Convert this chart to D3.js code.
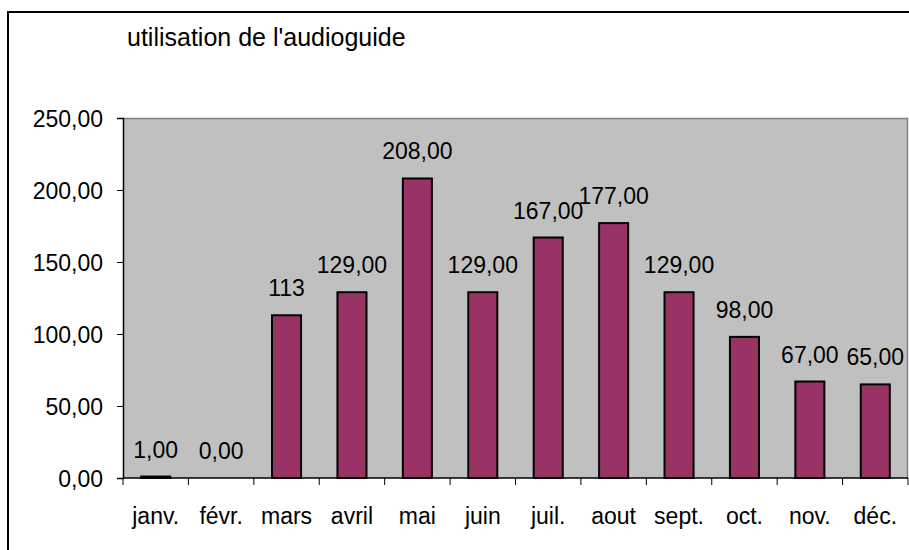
<!DOCTYPE html>
<html>
<head>
<meta charset="utf-8">
<script src="https://cdn.jsdelivr.net/npm/d3@7"></script>
<style>
  html, body { margin: 0; padding: 0; background: #fff; }
  svg { display: block; }
  text { font-family: "Liberation Sans", Arial, sans-serif; fill: #000; }
</style>
</head>
<body>
<div id="chart"></div>
<script>
'use strict'

// data
const months = ['janv.', 'févr.', 'mars', 'avril', 'mai', 'juin', 'juil.', 'aout', 'sept.', 'oct.', 'nov.', 'déc.']
const visits = [1, 0, 113, 129, 208, 129, 167, 177, 129, 98, 67, 65]
const valueLabels = ['1,00', '0,00', '113', '129,00', '208,00', '129,00', '167,00', '177,00', '129,00', '98,00', '67,00', '65,00']
const yTicks = [0, 50, 100, 150, 200, 250]
const title = "utilisation de l'audioguide"

const width = 909,
    height = 550,
    plot = { left: 123, top: 118, right: 908, bottom: 478 }

const fr = d3.formatLocale({ decimal: ',', thousands: ' ', grouping: [3], currency: ['', ' €'] })
const fmt = fr.format('.2f')

const svg = d3.select('#chart')
    .append('svg')
    .attr('width', width)
    .attr('height', height)

// outer frame (right and bottom edges fall outside the picture)
svg.append('rect')
    .attr('x', 8).attr('y', 12)
    .attr('width', 1000).attr('height', 1000)
    .attr('fill', 'none')
    .attr('stroke', '#000')
    .attr('stroke-width', 2)

svg.append('text')
    .attr('x', 127)
    .attr('y', 46)
    .style('font-size', '25px')
    .text(title)

const x = d3.scaleBand()
    .domain(months)
    .range([plot.left, plot.right])
    .paddingInner(0.556)
    .paddingOuter(0.278)

const y = d3.scaleLinear()
    .domain([0, 250])
    .range([plot.bottom, plot.top])

// plot area
svg.append('rect')
    .attr('x', plot.left).attr('y', plot.top)
    .attr('width', plot.right - plot.left)
    .attr('height', plot.bottom - plot.top)
    .attr('fill', '#c0c0c0')
svg.append('path')
    .attr('d', `M${plot.left},${plot.top + 0.5}H${plot.right - 0.5}V${plot.bottom}`)
    .attr('fill', 'none')
    .attr('stroke', '#808080')
    .attr('stroke-width', 1.5)

// bars
svg.append('g')
    .selectAll('rect')
    .data(visits)
    .join('rect')
    .attr('x', (d, i) => x(months[i]))
    .attr('y', d => y(d))
    .attr('width', x.bandwidth())
    .attr('height', d => y(0) - y(d))
    .attr('fill', '#993366')
    .attr('stroke', '#000')
    .attr('stroke-width', 2)
    .style('display', d => d > 0 ? null : 'none')

// value labels
svg.append('g')
    .selectAll('text')
    .data(visits)
    .join('text')
    .attr('x', (d, i) => x(months[i]) + x.bandwidth() / 2)
    .attr('y', d => y(d) - 19)
    .attr('text-anchor', 'middle')
    .style('font-size', '23px')
    .text((d, i) => valueLabels[i])

// y axis
const yAxis = svg.append('g')
    .attr('transform', `translate(${plot.left},0)`)
    .call(d3.axisLeft(y).tickValues(yTicks).tickSize(6).tickPadding(14).tickFormat(fmt))
yAxis.select('.domain').attr('stroke', '#000').attr('stroke-width', 1.5)
yAxis.selectAll('.tick text').style('font-size', '23px').attr('dy', '0.36em')

// x axis: labels centred on bars, ticks between categories
const step = x.step()
const bounds = months.map(m => x(m) - (step - x.bandwidth()) / 2).concat([plot.right])

const xAxis = svg.append('g')
    .attr('transform', `translate(0,${plot.bottom})`)
xAxis.append('line')
    .attr('x1', plot.left).attr('x2', plot.right)
    .attr('stroke', '#000').attr('stroke-width', 1.5)
xAxis.selectAll('line.tick')
    .data(bounds)
    .join('line')
    .attr('class', 'tick')
    .attr('x1', d => d).attr('x2', d => d)
    .attr('y1', 0).attr('y2', 7)
    .attr('stroke', '#000')
xAxis.selectAll('text')
    .data(months)
    .join('text')
    .attr('x', d => x(d) + x.bandwidth() / 2)
    .attr('y', 46)
    .attr('text-anchor', 'middle')
    .style('font-size', '23px')
    .text(d => d)
</script>
</body>
</html>
